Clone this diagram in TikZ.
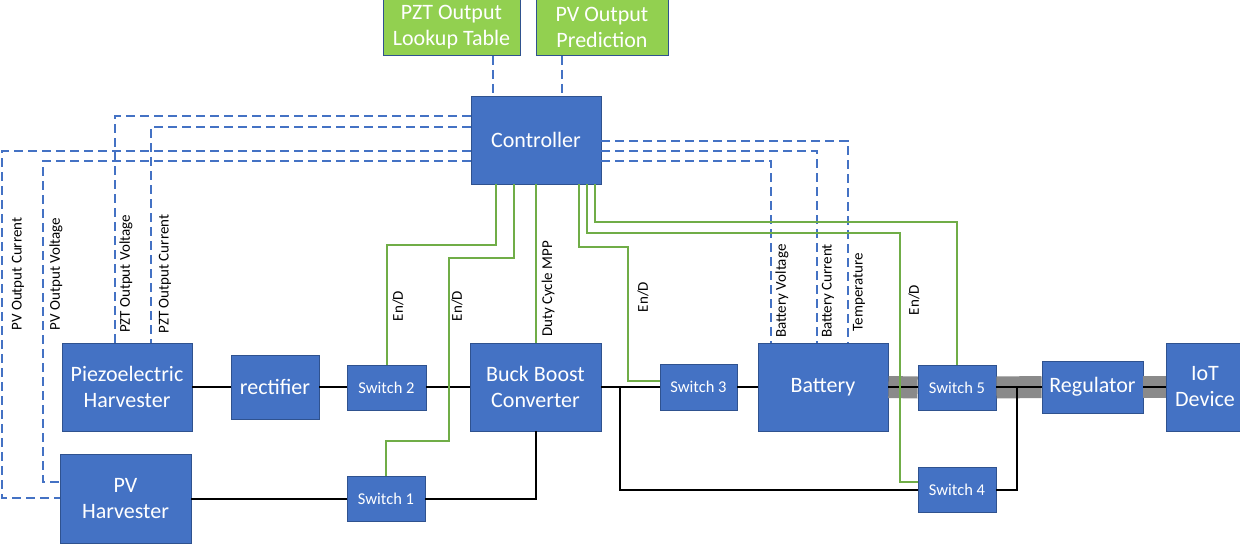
\documentclass[tikz,border=0pt]{standalone}
\usepackage{fontspec}
\setmainfont{Carlito}
\definecolor{boxblue}{HTML}{4472C4}
\definecolor{boxborder}{HTML}{2F528F}
\definecolor{boxgreen}{HTML}{92D050}
\definecolor{wiregreen}{HTML}{70AD47}
\definecolor{bandgray}{HTML}{8A8A8A}
\tikzset{
  box/.style={draw=boxborder, fill=boxblue, text=white, line width=0.8pt, inner sep=0pt, align=center, font=\fontsize{22}{26}\selectfont},
  gbox/.style={box, fill=boxgreen},
  swbox/.style={box, font=\fontsize{16.5}{19}\selectfont},
  sig/.style={draw=boxblue, line width=2pt, dash pattern=on 9pt off 5pt},
  ctl/.style={draw=wiregreen, line width=2pt},
  wire/.style={draw=black, line width=2pt},
  band/.style={draw=bandgray, line width=22pt},
  lbl/.style={rotate=90, font=\fontsize{15}{17}\selectfont, inner sep=0pt}
}
\begin{document}
\begin{tikzpicture}[x=1pt,y=-1pt]
\useasboundingbox (0,0) rectangle (1240,544);
% nodes
\node[gbox, minimum width=137pt, minimum height=57pt] (lut) at (451.5,27) {PZT Output\\Lookup Table};
\node[gbox, minimum width=132pt, minimum height=57pt] (pred) at (602,27) {PV Output\\Prediction};
\node[box, minimum width=130pt, minimum height=88pt] (ctrl) at (536,140) {Controller};
\node[box, minimum width=130pt, minimum height=88pt] (piezo) at (127,387) {Piezoelectric\\Harvester};
\node[box, minimum width=88pt, minimum height=64pt] (rect) at (275,387) {rectifier};
\node[swbox, minimum width=79pt, minimum height=45pt] (sw2) at (386.5,387.5) {Switch 2};
\node[box, minimum width=131pt, minimum height=88pt] (buck) at (535.5,387) {Buck Boost\\Converter};
\node[swbox, minimum width=77pt, minimum height=46pt] (sw3) at (698.5,387) {Switch 3};
\node[box, minimum width=130pt, minimum height=88pt] (batt) at (823,387) {Battery\vphantom{B}};
\node[swbox, minimum width=78pt, minimum height=45pt] (sw5) at (957,387.5) {Switch 5};
\node[box, minimum width=101pt, minimum height=52pt] (reg) at (1092.5,387) {Regulator};
\node[box, minimum width=78pt, minimum height=88pt] (iot) at (1205,387) {IoT\\Device};
\node[box, minimum width=131pt, minimum height=89pt] (pv) at (125.5,498.5) {PV\\Harvester};
\node[swbox, minimum width=78pt, minimum height=45pt] (sw1) at (386,498.5) {Switch 1};
\node[swbox, minimum width=78pt, minimum height=45pt] (sw4) at (957,489.5) {Switch 4};
\coordinate (j1) at (620,387);
\coordinate (j2) at (1017,387);
% gray band
\draw[band] (batt.east) -- (sw5.west);
\draw[band] (sw5.east) -- (reg.west);
\draw[band] (reg.east) -- (iot.west);
% black wires
\draw[wire] (piezo.east) -- (rect.west);
\draw[wire] (rect.east) -- (rect.east -| sw2.west);
\draw[wire] (sw2.east |- buck.west) -- (buck.west);
\draw[wire] (pv.east) -- (sw1.west);
\draw[wire] (sw1.east) -| (buck.south);
\draw[wire] (buck.east) -- (sw3.west |- buck.east);
\draw[wire] (j1) |- (sw4.west);
\draw[wire] (sw3.east |- batt.west) -- (batt.west);
\draw[wire] (batt.east) -- (sw5.west |- batt.east);
\draw[wire] (sw5.east |- reg.west) -- (reg.west);
\draw[wire] (reg.east) -- (iot.west);
\draw[wire] (j2) |- (sw4.east);
% dashed sensing lines
\draw[sig] (ctrl.west |- 0,116) -| (piezo.north -| 115,0);
\draw[sig] (ctrl.west |- 0,127) -| (piezo.north -| 151,0);
\draw[sig] (ctrl.west |- 0,151) -| (2,498) -- (pv.west |- 0,498);
\draw[sig] (ctrl.west |- 0,161) -| (43,482) -- (pv.west |- 0,482);
\draw[sig] (ctrl.east |- 0,141) -| (batt.north -| 848,0);
\draw[sig] (ctrl.east |- 0,151) -| (batt.north -| 817,0);
\draw[sig] (ctrl.east |- 0,161) -| (batt.north -| 771,0);
\draw[sig] (lut.south -| 493,0) -- (ctrl.north -| 493,0);
\draw[sig] (pred.south -| 562,0) -- (ctrl.north -| 562,0);
% green control lines
\draw[ctl] (ctrl.south -| 496,0) |- (387,245) -- (sw2.north -| 387,0);
\draw[ctl] (ctrl.south -| 514,0) |- (449,258) |- (386,441) -- (sw1.north -| 386,0);
\draw[ctl] (ctrl.south -| 536,0) -- (buck.north -| 536,0);
\draw[ctl] (ctrl.south -| 579,0) |- (628,247) |- (sw3.west |- 0,381);
\draw[ctl] (ctrl.south -| 587,0) |- (900,233) |- (sw4.west |- 0,482);
\draw[ctl] (ctrl.south -| 595,0) |- (957,222) -- (sw5.north);
% labels
\node[lbl] (l1) at (18,274) {PV Output Current};
\node[lbl] (l2) at (56,274) {PV Output Voltage};
\node[lbl] (l3) at (126,274) {PZT Output Voltage};
\node[lbl] (l4) at (165,274) {PZT Output Current};
\node[lbl] (l5) at (398,306) {En/D};
\node[lbl] (l6) at (457,306) {En/D};
\node[lbl] (l7) at (548,289) {Duty Cycle MPP};
\node[lbl] (l8) at (643,297) {En/D};
\node[lbl] (l9) at (782,291) {Battery Voltage};
\node[lbl] (l10) at (828,291) {Battery Current};
\node[lbl] (l11) at (859,292) {Temperature};
\node[lbl] (l12) at (914,300) {En/D};
\end{tikzpicture}
\end{document}
